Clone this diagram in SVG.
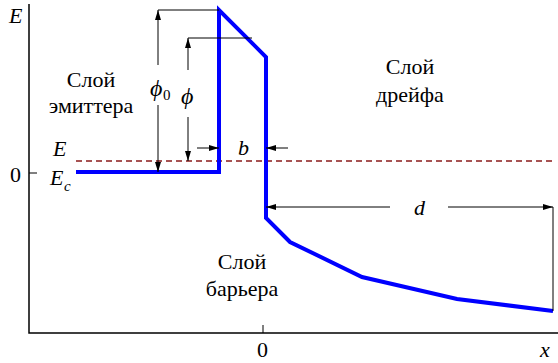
<svg xmlns="http://www.w3.org/2000/svg" width="558" height="363" viewBox="0 0 558 363">
<defs>
<marker id="ah" viewBox="0 0 10 6" refX="10" refY="3" markerWidth="10" markerHeight="6" markerUnits="userSpaceOnUse" orient="auto">
<path d="M0,0 L10,3 L0,6 Z" fill="#000"/>
</marker>
</defs>
<style>
text{font-family:'Liberation Serif','Times New Roman',serif;font-size:22px;fill:#000}
.i{font-style:italic}
.sub{font-size:15px}
.phi{font-size:24px}
.ax{stroke:#000;stroke-width:1.5;fill:none}
.thin{stroke:#000;stroke-width:1;fill:none}
.arr{stroke:#000;stroke-width:1;fill:none;marker-end:url(#ah)}
.band{stroke:#0000ff;stroke-width:4;fill:none;stroke-linejoin:miter}
.lvl{stroke:#8b1a1a;stroke-width:1.5;stroke-dasharray:6,4;fill:none}
</style>
<rect width="558" height="363" fill="#fff"/>
<g id="axes">
<path class="ax" d="M29,4 V333 H558"/>
<path class="thin" d="M29,173 H37"/>
<path class="thin" d="M263,325 V333"/>
<text class="i" x="9" y="23">E</text>
<text x="10" y="182">0</text>
<text x="257" y="357">0</text>
<text class="i" x="540" y="357">x</text>
</g>
<g id="level">
<path class="lvl" d="M76,161 H553"/>
<text class="i" x="53" y="156">E</text>
<text class="i" x="50" y="185">E</text>
<text class="i sub" x="64" y="191">c</text>
</g>
<g id="band">
<path class="band" d="M76,172 H219 V10 L266,57 V218 L290,242 L362,277 L457,299 L553,311"/>
</g>
<g id="connectors">
<path class="thin" d="M158,10 H219"/>
<path class="arr" d="M158,65 V10"/>
<path class="arr" d="M158,105 V172"/>
<path class="thin" d="M188,38 H252"/>
<path class="arr" d="M188,70 V38"/>
<path class="arr" d="M188,117 V161"/>
<path class="arr" d="M197,148 H219"/>
<path class="arr" d="M288,148 H266"/>
<path class="arr" d="M390,207 H266"/>
<path class="arr" d="M448,207 H553"/>
<path class="thin" d="M553,207 V311"/>
</g>
<g id="labels">
<text class="i phi" x="150" y="96">ϕ</text>
<text class="sub" x="163" y="100">0</text>
<text class="i phi" x="181" y="104">ϕ</text>
<text class="i" x="238" y="155">b</text>
<text class="i" x="414" y="215">d</text>
</g>
<g id="emitter">
<text x="91" y="87" text-anchor="middle">Слой</text>
<text x="91" y="113" text-anchor="middle">эмиттера</text>
</g>
<g id="drift">
<text x="410" y="74" text-anchor="middle">Слой</text>
<text x="410" y="102" text-anchor="middle">дрейфа</text>
</g>
<g id="barrier">
<text x="242" y="269" text-anchor="middle">Слой</text>
<text x="242" y="296" text-anchor="middle">барьера</text>
</g>
</svg>
